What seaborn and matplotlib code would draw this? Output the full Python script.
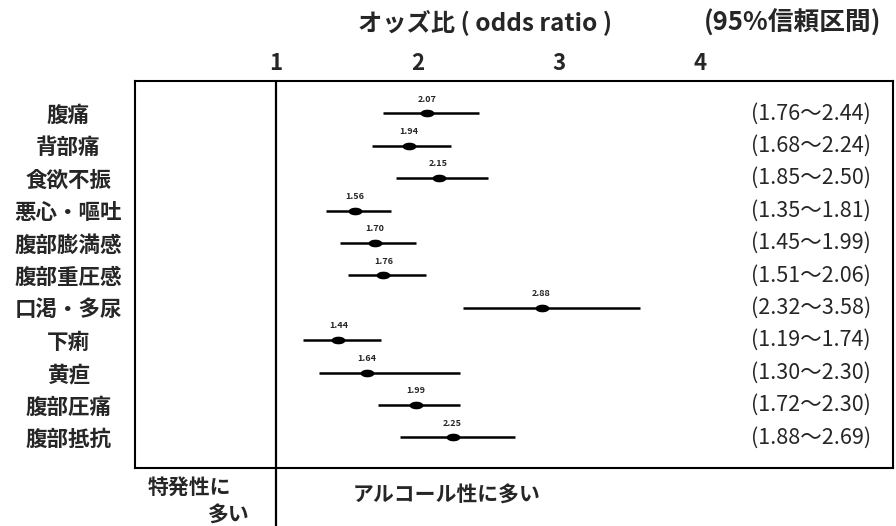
import matplotlib
matplotlib.use("Agg")
import matplotlib.pyplot as plt
import numpy as np
import pandas as pd
import seaborn as sns
from matplotlib.path import Path

# Symptoms and odds ratios with 95% confidence limits
symptoms = ["腹痛", "背部痛", "食欲不振", "悪心・嘔吐", "腹部膨満感", "腹部重圧感",
            "口渇・多尿", "下痢", "黄疸", "腹部圧痛", "腹部抵抗"]
odds_ratio = [2.07, 1.94, 2.15, 1.56, 1.70, 1.76, 2.88, 1.44, 1.64, 1.99, 2.25]
ci_lower = [1.76, 1.68, 1.85, 1.35, 1.45, 1.51, 2.32, 1.19, 1.30, 1.72, 1.88]
ci_upper = [2.44, 2.24, 2.50, 1.81, 1.99, 2.06, 3.58, 1.74, 2.30, 2.30, 2.69]
x_ticks = [1, 2, 3, 4]

df = pd.DataFrame({"symptom": symptoms, "or": odds_ratio,
                   "lo": ci_lower, "hi": ci_upper})

sns.set_theme(style="white")
plt.rcParams["font.family"] = ["Noto Sans CJK JP", "DejaVu Sans"]

fig = plt.figure(figsize=(8.96, 5.26), dpi=100)
ax = fig.add_axes([0.1507, 0.110, 0.846, 0.736])

# confidence intervals
ypos = np.arange(len(df))
ax.hlines(ypos, df["lo"], df["hi"], color="black", lw=1.8, zorder=2)

# flattened oval marker for the point estimate
t = np.linspace(0, 2 * np.pi, 40)
oval = Path(np.column_stack([np.cos(t), 0.55 * np.sin(t)]))
sns.scatterplot(data=df, x="or", y="symptom", marker=oval, s=100,
                color="black", edgecolor="black", linewidth=0, ax=ax, zorder=3)

# value labels above each estimate
for i, r in df.iterrows():
    ax.text(r["or"], i - 0.3, f"{r['or']:.2f}", ha="center", va="bottom",
            fontsize=6.5, fontweight="bold")

# reference line at OR = 1, running below the frame
ax.axvline(1, ymin=-0.15, ymax=1, color="black", lw=1.6, clip_on=False, zorder=4)

ax.set_xlim(0, 5.37)
ax.set_ylim(10.95, -1)
ax.xaxis.tick_top()
ax.set_xticks(x_ticks)
ax.set_xticklabels([str(v) for v in x_ticks], fontsize=16, fontweight="bold")
ax.tick_params(axis="x", length=0, pad=4)
ax.set_xlabel("")
ax.set_ylabel("")
ax.set_yticks(ypos)
ax.set_yticklabels(symptoms, fontsize=15.5, fontweight="bold", ha="center")
ax.tick_params(axis="y", length=0, pad=48)

for sp in ax.spines.values():
    sp.set_visible(True)
    sp.set_color("black")
    sp.set_linewidth(1.5)

# confidence interval text at right
for i, r in df.iterrows():
    ax.text(4.79, i, f"({r['lo']:.2f}〜{r['hi']:.2f})", ha="center", va="center",
            fontsize=15.5)

fig.text(0.541, 0.956, "オッズ比 ( odds ratio )", ha="center", va="center",
         fontsize=17.5, fontweight="bold")
fig.text(0.885, 0.956, "(95%信頼区間)", ha="center", va="center",
         fontsize=18.5, fontweight="bold")
fig.text(0.211, 0.074, "特発性に", ha="center", va="center",
         fontsize=15, fontweight="bold")
fig.text(0.279, 0.021, "多い", ha="right", va="center",
         fontsize=15, fontweight="bold")
fig.text(0.499, 0.059, "アルコール性に多い", ha="center", va="center",
         fontsize=15, fontweight="bold")

fig.savefig("out.png", dpi=100)
